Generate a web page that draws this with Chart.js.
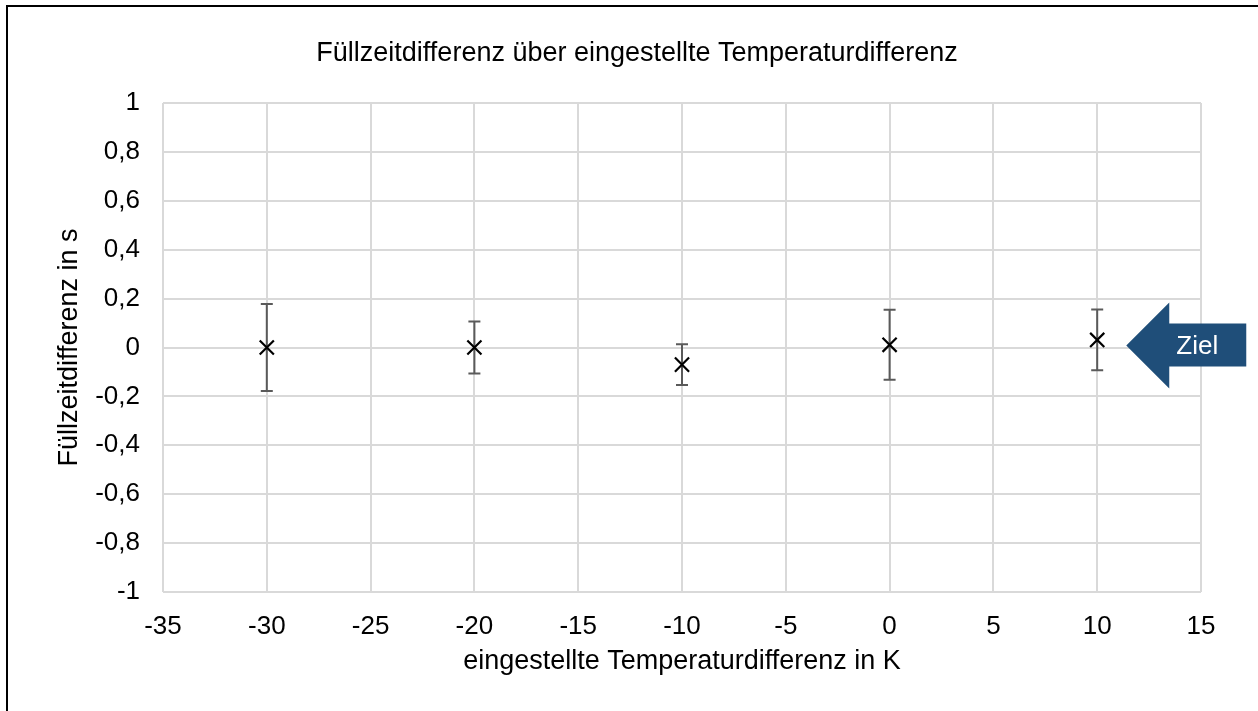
<!DOCTYPE html>
<html>
<head>
<meta charset="utf-8">
<script src="https://cdn.jsdelivr.net/npm/chart.js@4"></script>
<style>
    html, body { margin: 0; padding: 0; overflow: hidden; background: #fff; }
    canvas { position: absolute; left: 0; top: 0; }
    #frame { position: absolute; left: 6px; top: 5px; width: 1300px; height: 800px; border: 2px solid #000; pointer-events: none; }
</style>
</head>
<body>
<canvas id="myChart" width="1258" height="711"></canvas>
<div id="frame"></div>
<script>
// Messwerte: eingestellte Temperaturdifferenz (K), mittlere Füllzeitdifferenz (s), Streuung (s)
const temps = [-30, -20, -10, 0, 10];
const means = [0.0, 0.0, -0.07, 0.011, 0.031];
const errors = [0.178, 0.106, 0.083, 0.143, 0.124];

const chartTitle = 'Füllzeitdifferenz über eingestellte Temperaturdifferenz';
const xTitle = 'eingestellte Temperaturdifferenz in K';
const yTitle = 'Füllzeitdifferenz in s';
const targetLabel = 'Ziel';
const targetAt = { x: 11.4, y: 0.008 };

const FONT = "'Liberation Sans', Arial, sans-serif";
Chart.defaults.font.family = FONT;
Chart.defaults.color = '#000';

// Fehlerbalken aus means +/- errors
const errorBars = {
    id: 'errorBars',
    beforeDatasetsDraw(chart) {
        const { ctx, scales: { x, y } } = chart;
        ctx.save();
        ctx.strokeStyle = '#5a5a5a';
        ctx.lineWidth = 2;
        temps.forEach((t, i) => {
            const px = x.getPixelForValue(t);
            const top = y.getPixelForValue(means[i] + errors[i]);
            const bot = y.getPixelForValue(means[i] - errors[i]);
            ctx.beginPath();
            ctx.moveTo(px, top); ctx.lineTo(px, bot);
            ctx.moveTo(px - 6, top); ctx.lineTo(px + 6, top);
            ctx.moveTo(px - 6, bot); ctx.lineTo(px + 6, bot);
            ctx.stroke();
        });
        ctx.restore();
    }
};

// Titel und Zielpfeil
const decorations = {
    id: 'decorations',
    afterDraw(chart) {
        const { ctx, scales: { x, y } } = chart;
        ctx.save();
        ctx.font = '27px ' + FONT;
        ctx.fillStyle = '#000';
        ctx.textAlign = 'center';
        ctx.textBaseline = 'middle';
        ctx.fillText(chartTitle, chart.width / 2 + 8, 54);

        const tx = x.getPixelForValue(targetAt.x);
        const ty = y.getPixelForValue(targetAt.y);
        ctx.fillStyle = '#1f4e79';
        ctx.beginPath();
        ctx.moveTo(tx, ty);
        ctx.lineTo(tx + 43, ty - 43);
        ctx.lineTo(tx + 43, ty - 22);
        ctx.lineTo(tx + 120, ty - 22);
        ctx.lineTo(tx + 120, ty + 21);
        ctx.lineTo(tx + 43, ty + 21);
        ctx.lineTo(tx + 43, ty + 43);
        ctx.closePath();
        ctx.fill();
        ctx.fillStyle = '#fff';
        ctx.font = '26px ' + FONT;
        ctx.fillText(targetLabel, tx + 71, ty + 1);
        ctx.restore();
    }
};

const ctx = document.getElementById('myChart').getContext('2d');

new Chart(ctx, {
    type: 'scatter',
    data: {
        datasets: [{
            label: 'Füllzeitdifferenz',
            data: temps.map((t, i) => ({ x: t, y: means[i] })),
            pointStyle: 'crossRot',
            pointRadius: 10,
            pointBorderWidth: 2.2,
            borderColor: '#000',
            backgroundColor: '#000'
        }]
    },
    options: {
        responsive: false,
        animation: false,
        layout: { padding: { left: 0, right: 57, top: 103, bottom: 0 } },
        scales: {
            x: {
                type: 'linear',
                min: -35,
                max: 15,
                afterFit(scale) { scale.height = 119; },
                grid: { color: '#d9d9d9', lineWidth: 2, drawTicks: false },
                border: { display: false },
                ticks: { stepSize: 5, padding: 19, font: { size: 26 }, maxRotation: 0 },
                title: { display: true, text: xTitle, font: { size: 27 }, padding: { top: 0, bottom: 33 } }
            },
            y: {
                min: -1,
                max: 1,
                afterFit(scale) { scale.width = 163; },
                grid: { color: '#d9d9d9', lineWidth: 2, drawTicks: false },
                border: { display: false },
                ticks: {
                    stepSize: 0.2,
                    padding: 23,
                    font: { size: 26 },
                    callback: (v) => (Math.round(v * 10) / 10).toString().replace('.', ',')
                },
                title: { display: true, text: yTitle, font: { size: 27 }, padding: { top: 53, bottom: 0 } }
            }
        },
        plugins: {
            legend: { display: false },
            tooltip: { enabled: false }
        }
    },
    plugins: [errorBars, decorations]
});
</script>
</body>
</html>
